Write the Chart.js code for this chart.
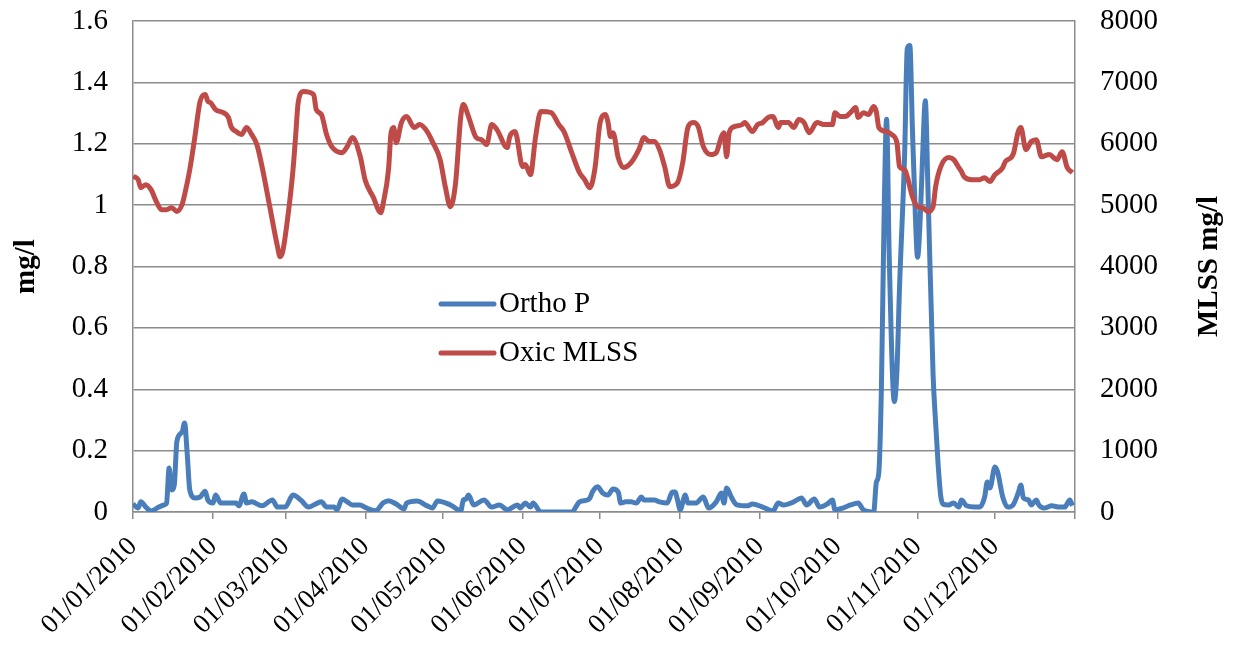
<!DOCTYPE html>
<html>
<head>
<meta charset="utf-8">
<title>Ortho P and Oxic MLSS 2010</title>
<script src="https://cdn.jsdelivr.net/npm/chart.js@4.4.1/dist/chart.umd.min.js"></script>
<style>
  html, body { margin: 0; padding: 0; background: #fff; }
  #wrap { width: 1235px; height: 652px; }
</style>
</head>
<body>
<div id="wrap"><canvas id="chart" width="1235" height="652"></canvas></div>
<script>
// Day of year (0 = 01/01/2010) for month starts, plus end of year
const monthStarts = [0, 31, 59, 90, 120, 151, 181, 212, 243, 273, 304, 334, 365];
const monthLabels = ["01/01/2010", "01/02/2010", "01/03/2010", "01/04/2010", "01/05/2010", "01/06/2010",
    "01/07/2010", "01/08/2010", "01/09/2010", "01/10/2010", "01/11/2010", "01/12/2010", ""];

// Ortho P (mg/l), left axis
const orthoDays = [0, 2, 3, 5, 7, 10, 12, 13, 14, 15, 16, 17, 19, 20, 21, 22, 24, 26, 28, 29, 31, 32, 34, 37, 40, 41, 43, 44, 46, 50,
    54, 56, 59, 62, 65, 68, 70, 73, 75, 78, 79, 81, 83, 85, 88, 90, 94, 97, 99, 102, 105, 106, 110, 114, 116, 118, 123, 127, 128, 129,
    130, 132, 136, 139, 142, 145, 149, 150, 152, 154, 155, 158, 170, 173, 176, 177, 178, 180, 182, 184, 186, 188, 189, 191, 193, 195, 197, 198, 202, 204,
    207, 209, 210, 211, 212, 214, 215, 218, 221, 223, 226, 228, 229, 230, 232, 234, 238, 240, 244, 248, 250, 252, 256, 259, 261, 264, 266, 269, 271, 272,
    275, 278, 281, 283, 287, 288, 289, 290, 291, 292, 293, 295, 296, 297, 299, 300, 301, 302, 303, 304, 305, 306, 307, 308, 310, 311, 312, 313, 314, 316, 318, 320,
    321, 323, 326, 328, 330, 331, 332, 334, 335, 337, 339, 341, 343, 344, 345, 347, 348, 350, 351, 353, 356, 359, 361, 363, 364];
const orthoP = [0.026, 0.013, 0.033, 0.016, 0.003, 0.016, 0.023, 0.029, 0.143, 0.072, 0.088, 0.23, 0.26, 0.29, 0.19, 0.072, 0.046, 0.049, 0.068, 0.039, 0.029, 0.055, 0.029, 0.029, 0.029, 0.02, 0.059, 0.029, 0.033, 0.02,
    0.039, 0.016, 0.016, 0.055, 0.039, 0.016, 0.023, 0.033, 0.016, 0.016, 0.007, 0.042, 0.033, 0.023, 0.023, 0.015, 0.004, 0.03, 0.037, 0.026, 0.01, 0.029, 0.036, 0.02, 0.013, 0.036, 0.023, 0.004, 0.039, 0.042,
    0.055, 0.023, 0.039, 0.016, 0.023, 0.007, 0.023, 0.013, 0.029, 0.016, 0.029, 0, 0, 0.033, 0.039, 0.045, 0.065, 0.082, 0.062, 0.055, 0.075, 0.065, 0.029, 0.033, 0.033, 0.029, 0.049, 0.039, 0.039, 0.033,
    0.029, 0.065, 0.065, 0.039, 0.007, 0.055, 0.029, 0.029, 0.049, 0.013, 0.033, 0.062, 0.029, 0.078, 0.046, 0.023, 0.02, 0.026, 0.016, 0.003, 0.029, 0.023, 0.033, 0.046, 0.023, 0.042, 0.016, 0.026, 0.039, 0.007,
    0.013, 0.023, 0.029, 0.007, 0, 0.095, 0.13, 0.41, 0.95, 1.28, 0.84, 0.36, 0.46, 0.73, 1.17, 1.51, 1.52, 1.25, 1.0, 0.83, 0.95, 1.17, 1.34, 1.06, 0.45, 0.29, 0.15, 0.05, 0.025, 0.023, 0.029, 0.016,
    0.039, 0.02, 0.016, 0.016, 0.049, 0.098, 0.078, 0.147, 0.131, 0.049, 0.016, 0.023, 0.062, 0.088, 0.046, 0.039, 0.023, 0.039, 0.023, 0.013, 0.02, 0.016, 0.016, 0.039, 0.02];

// Oxic MLSS (mg/l), right axis
const mlssDays = [0, 2, 3, 5, 7, 9, 11, 13, 15, 17, 19, 20, 22, 24, 26, 28, 29, 30, 32, 35, 37, 38, 40, 42, 44, 46, 48, 50, 53, 56,
    57, 58, 60, 62, 63, 64, 66, 70, 71, 73, 75, 77, 81, 83, 85, 88, 90, 93, 96, 97, 99, 100, 101, 102, 104, 106, 109, 111, 114, 116,
    119, 121, 123, 125, 127, 128, 130, 133, 135, 137, 139, 141, 145, 146, 148, 151, 152, 154, 156, 158, 162, 165, 167, 170, 173, 175, 177, 179, 181, 183,
    184, 185, 186, 188, 190, 193, 196, 198, 200, 202, 204, 206, 208, 211, 213, 215, 217, 219, 221, 224, 226, 228, 229, 230, 231, 233, 236, 237, 240, 242,
    244, 246, 248, 250, 251, 254, 256, 258, 260, 262, 265, 268, 271, 272, 274, 276, 278, 280, 281, 283, 285, 287, 288, 289, 292, 294, 296, 297, 299, 300,
    302, 304, 306, 308, 310, 311, 313, 316, 318, 320, 321, 322, 325, 328, 330, 332, 334, 337, 338, 341, 343, 344, 346, 348, 350, 352, 355, 358, 360, 362, 364];
const oxicMlss = [5469, 5415, 5285, 5333, 5252, 5061, 4926, 4926, 4958, 4898, 5007, 5170, 5578, 6121, 6692, 6801, 6692, 6670, 6557, 6507, 6426, 6279, 6198, 6149, 6263, 6149, 5986, 5627, 4975, 4322,
    4159, 4241, 4812, 5578, 6116, 6670, 6850, 6801, 6557, 6475, 6149, 5953, 5855, 5953, 6100, 5800, 5400, 5138, 4877, 5040, 5578, 6181, 6263, 6018, 6345, 6442, 6263, 6312, 6198, 6035,
    5741, 5301, 4975, 5366, 6442, 6638, 6442, 6100, 6067, 5986, 6312, 6230, 5937, 6116, 6198, 5627, 5660, 5497, 6116, 6524, 6507, 6312, 6198, 5855, 5529, 5415, 5285, 5600, 6345, 6475,
    6361, 6116, 6181, 5774, 5611, 5692, 5904, 6100, 6035, 6035, 5904, 5627, 5301, 5366, 5692, 6263, 6345, 6279, 5953, 5823, 5855, 6116, 6181, 5790, 6181, 6279, 6312, 6345, 6198, 6312,
    6345, 6426, 6442, 6263, 6345, 6345, 6263, 6394, 6345, 6181, 6345, 6312, 6312, 6507, 6442, 6442, 6507, 6589, 6426, 6507, 6475, 6605, 6524, 6263, 6198, 6149, 6018, 5627, 5578, 5464,
    5138, 4975, 4958, 4893, 4975, 5301, 5627, 5774, 5741, 5611, 5546, 5464, 5415, 5415, 5448, 5383, 5497, 5611, 5709, 5823, 6198, 6263, 5904, 6035, 6067, 5790, 5823, 5741, 5871, 5611, 5529];

const BLUE = "#4a7ebb";
const RED = "#be4b48";
const GRID = "#8c8c8c";
const FONT = "'Liberation Serif', 'Times New Roman', serif";
const FONT_SIZE = 29;

Chart.defaults.font.family = FONT;
Chart.defaults.font.size = FONT_SIZE;
Chart.defaults.color = "#000";

function toPoints(days, values) {
    return days.map((d, i) => ({ x: d, y: values[i] }));
}

// Legend inside the plot area and right axis title (reads bottom to top)
const extras = {
    id: "extras",
    afterDatasetsDraw(chart) {
        const ctx = chart.ctx;
        const area = chart.chartArea;
        const items = [
            { text: "Ortho P", color: BLUE, y: 304 },
            { text: "Oxic MLSS", color: RED, y: 353 },
        ];
        ctx.save();
        ctx.font = FONT_SIZE + "px " + FONT;
        ctx.textBaseline = "middle";
        ctx.fillStyle = "#000";
        items.forEach((item) => {
            const x0 = area.left + 308;
            ctx.strokeStyle = item.color;
            ctx.lineWidth = 5;
            ctx.lineCap = "round";
            ctx.beginPath();
            ctx.moveTo(x0, item.y);
            ctx.lineTo(x0 + 53, item.y);
            ctx.stroke();
            ctx.fillText(item.text, x0 + 58, item.y);
        });

        ctx.font = "bold " + FONT_SIZE + "px " + FONT;
        ctx.textAlign = "center";
        ctx.translate(1210, (area.top + area.bottom) / 2);
        ctx.rotate(-Math.PI / 2);
        ctx.fillText("MLSS mg/l", 0, 0);
        ctx.restore();
    },
};

new Chart(document.getElementById("chart").getContext("2d"), {
    type: "line",
    data: {
        datasets: [
            {
                label: "Ortho P",
                data: toPoints(orthoDays, orthoP),
                borderColor: BLUE,
                backgroundColor: BLUE,
                borderWidth: 5,
                pointRadius: 0,
                cubicInterpolationMode: "monotone",
                yAxisID: "y",
                order: 1,
            },
            {
                label: "Oxic MLSS",
                data: toPoints(mlssDays, oxicMlss),
                borderColor: RED,
                backgroundColor: RED,
                borderWidth: 5,
                pointRadius: 0,
                cubicInterpolationMode: "monotone",
                yAxisID: "y1",
                order: 0,
            },
        ],
    },
    options: {
        responsive: false,
        animation: false,
        devicePixelRatio: 1,
        layout: { padding: { top: 21, left: 0, right: 0, bottom: 0 } },
        plugins: {
            legend: { display: false },
            tooltip: { enabled: false },
        },
        scales: {
            x: {
                type: "linear",
                min: 0,
                max: 365,
                afterBuildTicks: (axis) => {
                    axis.ticks = monthStarts.map((v) => ({ value: v }));
                },
                afterFit: (axis) => {
                    axis.height = 140;
                    axis.paddingLeft = 0;
                    axis.paddingRight = 0;
                },
                ticks: {
                    autoSkip: false,
                    maxRotation: 45,
                    minRotation: 45,
                    padding: 12,
                    font: { size: 27 },
                    callback: function (value) {
                        const i = monthStarts.indexOf(value);
                        return i >= 0 ? monthLabels[i] : "";
                    },
                },
                grid: {
                    drawOnChartArea: false,
                    drawTicks: true,
                    tickLength: 7,
                    color: GRID,
                    lineWidth: 1.5,
                },
                border: { color: GRID, width: 1.5 },
            },
            y: {
                position: "left",
                min: 0,
                max: 1.6,
                afterFit: (axis) => {
                    axis.width = 133;
                    axis.paddingTop = 0;
                    axis.paddingBottom = 0;
                },
                ticks: {
                    stepSize: 0.2,
                    padding: 25,
                    callback: function (value) {
                        return String(+value.toFixed(1));
                    },
                },
                grid: {
                    drawTicks: false,
                    color: GRID,
                    lineWidth: 1.5,
                },
                border: { color: GRID, width: 1.5 },
                title: {
                    display: true,
                    text: "mg/l",
                    font: { size: FONT_SIZE, weight: "bold" },
                    padding: { top: 9, bottom: 0 },
                },
            },
            y1: {
                position: "right",
                min: 0,
                max: 8000,
                afterFit: (axis) => {
                    axis.width = 160;
                    axis.paddingTop = 0;
                    axis.paddingBottom = 0;
                },
                ticks: {
                    stepSize: 1000,
                    padding: 25,
                    callback: function (value) {
                        return String(value);
                    },
                },
                grid: {
                    drawOnChartArea: false,
                    drawTicks: false,
                },
                border: { color: GRID, width: 1.5 },
            },
        },
    },
    plugins: [extras],
});
</script>
</body>
</html>
